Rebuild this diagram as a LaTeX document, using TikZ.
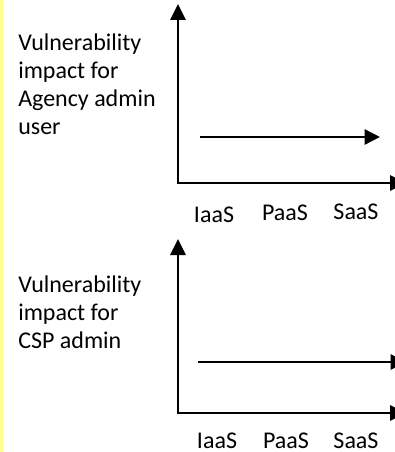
\documentclass[tikz,border=0pt]{standalone}
\usepackage{fontspec}
\setmainfont{Carlito}
\usetikzlibrary{arrows.meta}
\definecolor{baryellow}{HTML}{FFFF8C}
\tikzset{
  axis/.style={line width=2pt, {Triangle[length=12pt,width=11.25pt]}-{Triangle[length=12pt,width=11.25pt]}},
  level/.style={line width=1.8pt, -{Triangle[length=11.5pt,width=11.25pt]}},
  lbl/.style={inner sep=0pt, anchor=base west, font=\fontsize{18pt}{21pt}\selectfont},
  tick/.style={inner sep=0pt, anchor=base, font=\fontsize{18pt}{21pt}\selectfont}
}
\begin{document}
\begin{tikzpicture}[x=0.75pt, y=-0.75pt]
\useasboundingbox (0,0) rectangle (395,452);
\clip (0,0) rectangle (395,452);
\fill[white] (0,0) rectangle (395,452);
% margin bar on the left edge
\fill[baryellow] (0,0) rectangle (3,452);

% upper chart
\coordinate (ytop1) at (178,4);
\coordinate (o1) at (178,183);
\coordinate (xend1) at (406,183);
\coordinate (ls1) at (200,137);
\coordinate (le1) at (380,137);
\draw[axis] (ytop1) -- (o1) -- (xend1);
\draw[level] (ls1) -- (le1);
\node[lbl] (t1a) at (18,51) {Vulnerability};
\node[lbl] (t1b) at (18,79) {impact for};
\node[lbl] (t1c) at (18,107) {Agency admin};
\node[lbl] (t1d) at (18,135) {user};
\node[tick] (i1) at (214,222) {IaaS};
\node[tick] (p1) at (285,220) {PaaS};
\node[tick] (s1) at (356,219) {SaaS};

% lower chart
\coordinate (ytop2) at (178,239);
\coordinate (o2) at (178,413);
\coordinate (xend2) at (406,413);
\coordinate (ls2) at (198,362);
\coordinate (le2) at (406,362);
\draw[axis] (ytop2) -- (o2) -- (xend2);
\draw[level] (ls2) -- (le2);
\node[lbl] (t2a) at (18,292) {Vulnerability};
\node[lbl] (t2b) at (18,320) {impact for};
\node[lbl] (t2c) at (18,348) {CSP admin};
\node[tick] (i2) at (217,448) {IaaS};
\node[tick] (p2) at (286,448) {PaaS};
\node[tick] (s2) at (356,448) {SaaS};
\end{tikzpicture}
\end{document}
